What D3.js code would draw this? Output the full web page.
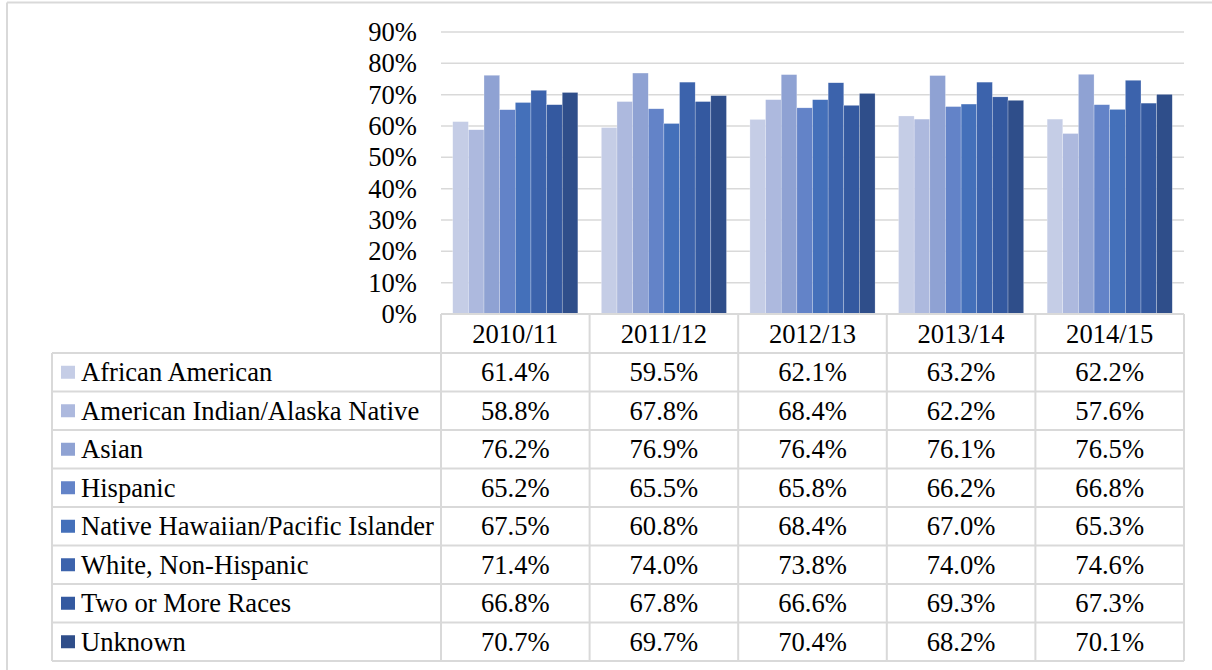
<!DOCTYPE html>
<html>
<head>
<meta charset="utf-8">
<script src="https://cdn.jsdelivr.net/npm/d3@7"></script>
<style>
  body { margin: 0; background: #fff; }
</style>
</head>
<body>
<svg width="1212" height="670"></svg>
<script>
// data
var years = ["2010/11", "2011/12", "2012/13", "2013/14", "2014/15"];
var groups = ["African American", "American Indian/Alaska Native", "Asian", "Hispanic",
  "Native Hawaiian/Pacific Islander", "White, Non-Hispanic", "Two or More Races", "Unknown"];
var africanAmerican = [61.4, 59.5, 62.1, 63.2, 62.2];
var americanIndian = [58.8, 67.8, 68.4, 62.2, 57.6];
var asian = [76.2, 76.9, 76.4, 76.1, 76.5];
var hispanic = [65.2, 65.5, 65.8, 66.2, 66.8];
var nativeHawaiian = [67.5, 60.8, 68.4, 67.0, 65.3];
var white = [71.4, 74.0, 73.8, 74.0, 74.6];
var twoOrMore = [66.8, 67.8, 66.6, 69.3, 67.3];
var unknown = [70.7, 69.7, 70.4, 68.2, 70.1];
var yTicks = [0, 10, 20, 30, 40, 50, 60, 70, 80, 90];

var values = [africanAmerican, americanIndian, asian, hispanic, nativeHawaiian, white, twoOrMore, unknown];
var colors = ["#c5cde6", "#adb9de", "#8fa2d3", "#6383c8", "#4470ba", "#3c63ac", "#3459a0", "#2f4e8a"];

var svg = d3.select("svg");
var gridColor = "#d9d9d9";
var fontSize = 26.6;
var fontFamily = "'Liberation Serif'";

// outer frame
svg.append("line").attr("x1", 7).attr("x2", 1212).attr("y1", 2.5).attr("y2", 2.5)
  .attr("stroke", gridColor).attr("stroke-width", 2);
svg.append("line").attr("x1", 7).attr("x2", 7).attr("y1", 2.5).attr("y2", 670)
  .attr("stroke", gridColor).attr("stroke-width", 2);

var plotLeft = 441, plotRight = 1184, plotTop = 32, plotBottom = 314;
var tableLeft = 52, rowH = 38.5, headerH = 39;

var x = d3.scaleBand().domain(years).range([plotLeft, plotRight]);
// 8 bars per year, gap = 1.5 bars (split over both sides)
var x1 = d3.scaleBand().domain(d3.range(groups.length)).range([0, x.bandwidth()])
  .paddingInner(0).paddingOuter(0.75);
var y = d3.scaleLinear().domain([0, 90]).range([plotBottom, plotTop]);

// gridlines
svg.append("g").selectAll("line").data(yTicks.filter(d => d > 0)).enter().append("line")
  .attr("x1", plotLeft).attr("x2", plotRight)
  .attr("y1", d => y(d)).attr("y2", d => y(d))
  .attr("stroke", gridColor).attr("stroke-width", 1.5);

// y axis labels
svg.append("g").selectAll("text").data(yTicks).enter().append("text")
  .attr("x", 417).attr("y", d => y(d) + 9)
  .attr("text-anchor", "end").attr("font-size", fontSize)
  .style("font-family", fontFamily)
  .text(d => d + "%");

// bars
var yearG = svg.append("g").selectAll("g").data(years).enter().append("g")
  .attr("transform", d => "translate(" + x(d) + ",0)");
yearG.selectAll("rect").data((d, yi) => values.map((s, si) => ({ si: si, v: s[yi] })))
  .enter().append("rect")
  .attr("x", d => x1(d.si))
  .attr("width", x1.bandwidth())
  .attr("y", d => y(d.v))
  .attr("height", d => y(0) - y(d.v))
  .attr("fill", d => colors[d.si])
  .attr("stroke", "#ffffff").attr("stroke-width", 0.5).attr("stroke-opacity", 0.5);

// data table
var table = svg.append("g");
var tableBottom = plotBottom + headerH + rowH * groups.length;
// horizontal lines
table.append("line").attr("x1", plotLeft).attr("x2", plotRight)
  .attr("y1", plotBottom).attr("y2", plotBottom)
  .attr("stroke", gridColor).attr("stroke-width", 2);
table.selectAll("line.h").data(d3.range(groups.length + 1)).enter().append("line")
  .attr("class", "h")
  .attr("x1", tableLeft).attr("x2", plotRight)
  .attr("y1", i => plotBottom + headerH + i * rowH).attr("y2", i => plotBottom + headerH + i * rowH)
  .attr("stroke", gridColor).attr("stroke-width", 2);
// vertical lines
table.selectAll("line.v").data(years.map(d => x(d)).concat([plotRight])).enter().append("line")
  .attr("class", "v")
  .attr("x1", d => d).attr("x2", d => d)
  .attr("y1", plotBottom).attr("y2", tableBottom)
  .attr("stroke", gridColor).attr("stroke-width", 2);
table.append("line").attr("x1", tableLeft).attr("x2", tableLeft)
  .attr("y1", plotBottom + headerH).attr("y2", tableBottom)
  .attr("stroke", gridColor).attr("stroke-width", 2);

// header labels
table.selectAll("text.year").data(years).enter().append("text")
  .attr("class", "year")
  .attr("x", d => x(d) + x.bandwidth() / 2)
  .attr("y", plotBottom + headerH / 2 + 9)
  .attr("text-anchor", "middle").attr("font-size", fontSize)
  .style("font-family", fontFamily)
  .text(d => d);

// row labels with swatches
var rows = table.selectAll("g.row").data(groups).enter().append("g")
  .attr("class", "row")
  .attr("transform", (d, i) => "translate(0," + (plotBottom + headerH + i * rowH) + ")");
rows.append("rect").attr("x", 61).attr("y", rowH / 2 - 6.5).attr("width", 14).attr("height", 13)
  .attr("fill", (d, i) => colors[i]);
rows.append("text").attr("x", 81).attr("y", rowH / 2 + 9)
  .attr("font-size", fontSize).style("font-family", fontFamily)
  .text(d => d);
rows.selectAll("text.val").data((d, i) => values[i].map((v, yi) => ({ v: v, year: years[yi] })))
  .enter().append("text").attr("class", "val")
  .attr("x", d => x(d.year) + x.bandwidth() / 2)
  .attr("y", rowH / 2 + 9)
  .attr("text-anchor", "middle").attr("font-size", fontSize)
  .style("font-family", fontFamily)
  .text(d => d.v.toFixed(1) + "%");
</script>
</body>
</html>
